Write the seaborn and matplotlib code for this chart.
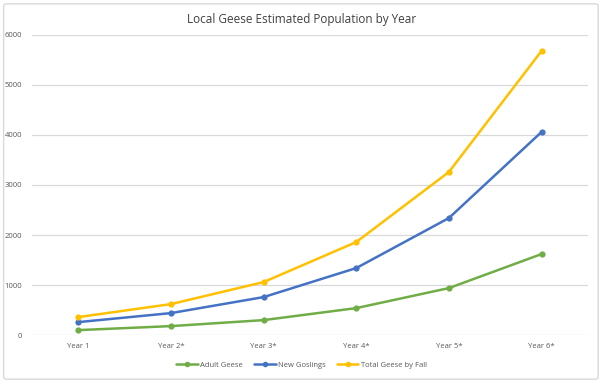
import pandas as pd
import numpy as np
import matplotlib.pyplot as plt
import seaborn as sns
from matplotlib.patches import FancyBboxPatch

# datos
years = ['Year 1', 'Year 2*', 'Year 3*', 'Year 4*', 'Year 5*', 'Year 6*']
adult_geese = [100, 180, 300, 540, 940, 1620]
new_goslings = [260, 440, 760, 1340, 2340, 4060]
total_fall = [360, 620, 1060, 1860, 3260, 5680]
series_names = ['Adult Geese', 'New Goslings', 'Total Geese by Fall']
colores = ['#70AD47', '#4472C4', '#FFC000']
y_ticks = [0, 1000, 2000, 3000, 4000, 5000, 6000]

sns.set_style('white')
plt.rcParams['font.family'] = ['Open Sans', 'DejaVu Sans']

df = pd.DataFrame({
    'Year': years * 3,
    'Value': adult_geese + new_goslings + total_fall,
    'Serie': [s for s in series_names for _ in years],
})
df['x'] = df['Year'].map({y: i for i, y in enumerate(years)})

fig = plt.figure(figsize=(6.03, 3.83), dpi=100)
ax = fig.add_axes([0.053, 0.125, 0.922, 0.784])

# borde exterior
borde = FancyBboxPatch((0.006, 0.01), 0.986, 0.98, boxstyle='round,pad=0,rounding_size=0.005',
                       transform=fig.transFigure, fill=False, edgecolor='#D9D9D9', linewidth=1)
fig.patches.append(borde)

sns.lineplot(data=df, x='x', y='Value', hue='Serie', palette=colores, ax=ax,
             marker='o', markersize=4.5, markeredgewidth=0, linewidth=1.8,
             sort=False, legend=False)

ax.set_xlim(-0.5, len(years) - 0.5)
ax.set_ylim(0, 6000)
ax.set_xticks(range(len(years)))
ax.set_xticklabels(years)
ax.set_yticks(y_ticks)
ax.set_xlabel('')
ax.set_ylabel('')
ax.grid(True, axis='y', color='#D9D9D9', linewidth=0.9)
ax.set_axisbelow(True)
for s in ax.spines.values():
    s.set_visible(False)
ax.tick_params(axis='both', labelsize=5.5, labelcolor='#595959', length=0)
ax.tick_params(axis='y', pad=7)
ax.tick_params(axis='x', pad=6)

fig.text(0.5, 0.95, 'Local Geese Estimated Population by Year', ha='center', va='center',
         fontsize=8.5, color='#404040')

handles = [plt.Line2D([], [], color=c, marker='o', markersize=4, markeredgewidth=0,
                      linewidth=1.8) for c in colores]
fig.legend(handles, series_names, loc='center', bbox_to_anchor=(0.5, 0.047), ncol=3,
           frameon=False, fontsize=5.5, handlelength=2.8, columnspacing=1.5,
           handletextpad=0.3, labelcolor='#595959')

fig.savefig('out.png', dpi=100)
